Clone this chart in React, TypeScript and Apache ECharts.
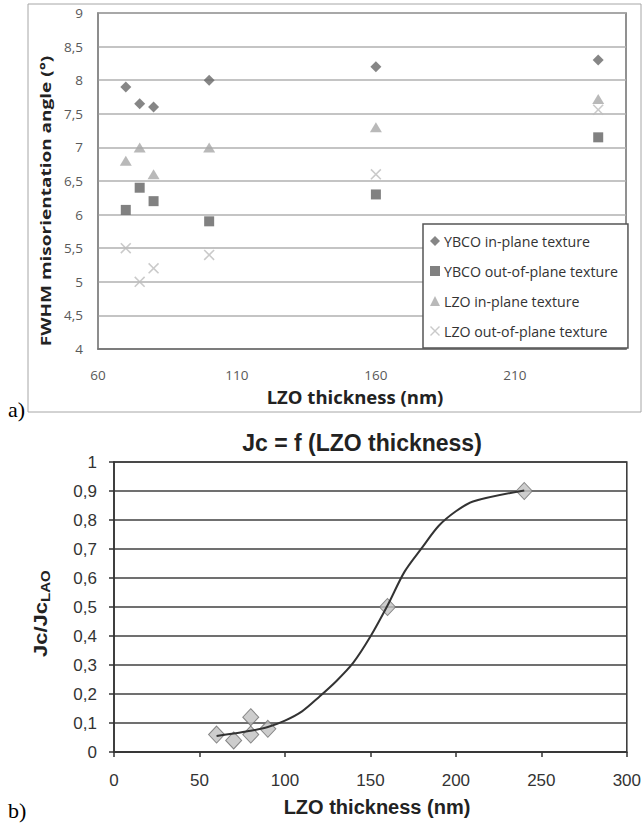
import React, { useEffect, useRef } from "react";
import * as echarts from "echarts";

// ---- chart a) FWHM misorientation angle vs LZO thickness ----
const thicknessA = [70, 75, 80, 100, 160, 240];
const ybcoInPlane = [7.9, 7.65, 7.6, 8.0, 8.2, 8.3];
const ybcoOutOfPlane = [6.07, 6.4, 6.2, 5.9, 6.3, 7.15];
const lzoInPlane = [6.8, 7.0, 6.6, 7.0, 7.3, 7.72];
const lzoOutOfPlane = [5.5, 5.0, 5.2, 5.4, 6.6, 7.56];
const xTickLabelsA = [60, 110, 160, 210];
const seriesNamesA = [
  "YBCO in-plane texture",
  "YBCO out-of-plane texture",
  "LZO in-plane texture",
  "LZO out-of-plane texture",
];

// ---- chart b) Jc/JcLAO vs LZO thickness ----
const thicknessB = [60, 70, 80, 80, 90, 160, 240];
const jcRatio = [0.06, 0.04, 0.12, 0.06, 0.08, 0.5, 0.9];
const fitX = [60, 70, 80, 90, 100, 110, 120, 130, 140, 150, 160, 170, 180, 190, 200, 210, 240];
const fitY = [0.055, 0.064, 0.073, 0.086, 0.108, 0.14, 0.19, 0.244, 0.308, 0.398, 0.505, 0.622, 0.703, 0.78, 0.83, 0.864, 0.902];

const CROSS =
  "path://M1,0 L5,4 L9,0 L10,1 L6,5 L10,9 L9,10 L5,6 L1,10 L0,9 L4,5 L0,1 Z";

const comma = (v: number) => String(+v.toFixed(2)).replace(".", ",");

export default function App() {
  const ref = useRef<HTMLDivElement>(null);
  useEffect(() => {
    if (!ref.current) return;
    const chart = echarts.init(ref.current, undefined, { renderer: "svg" });
    const pair = (xs: number[], ys: number[]) => xs.map((x, i) => [x, ys[i]]);
    const fA = "Open Sans";
    const fB = "Liberation Sans";
    const option: any = {
      animation: false,
      backgroundColor: "#ffffff",
      grid: [
        { left: 98, top: 13, width: 528, height: 336, show: true, borderColor: "#6e6e6e", borderWidth: 1.5, backgroundColor: "transparent" },
        { left: 114, top: 462, width: 516, height: 290, show: true, borderColor: "#333", borderWidth: 1.5, backgroundColor: "transparent" },
      ],
      xAxis: [
        {
          gridIndex: 0, type: "value", min: 60, max: 250,
          axisLine: { show: true, lineStyle: { color: "#6e6e6e", width: 1.5 } },
          axisTick: { show: false },
          splitLine: { show: false },
          axisLabel: { customValues: xTickLabelsA, color: "#595959", fontSize: 13.5, fontFamily: fA, margin: 19 },
        },
        {
          gridIndex: 1, type: "value", min: 0, max: 300, interval: 50,
          axisLine: { show: true, lineStyle: { color: "#333", width: 1.5 } },
          axisTick: { show: true, inside: false, length: 5, lineStyle: { color: "#333", width: 1.5 } },
          splitLine: { show: false },
          axisLabel: { color: "#333", fontSize: 17, fontFamily: fB, margin: 20 },
        },
      ],
      yAxis: [
        {
          gridIndex: 0, type: "value", min: 4, max: 9, interval: 0.5,
          axisLine: { show: true, lineStyle: { color: "#8c8c8c", width: 1.5 } },
          axisTick: { show: false },
          splitLine: { show: true, lineStyle: { color: "#b0b0b0", width: 1.5 } },
          axisLabel: { color: "#595959", fontSize: 13.5, fontFamily: fA, margin: 15, formatter: comma },
        },
        {
          gridIndex: 1, type: "value", min: 0, max: 1, interval: 0.1,
          axisLine: { show: true, lineStyle: { color: "#333", width: 1.5 } },
          axisTick: { show: true, inside: false, length: 5, lineStyle: { color: "#333", width: 1.5 } },
          splitLine: { show: true, lineStyle: { color: "#404040", width: 1.5 } },
          axisLabel: { color: "#333", fontSize: 17, fontFamily: fB, margin: 17, formatter: comma },
        },
      ],
      legend: {
        left: 423, top: 224, orient: "vertical",
        backgroundColor: "#fff", borderColor: "#555", borderWidth: 1.5,
        padding: [9, 10, 9, 7], itemWidth: 10, itemHeight: 10, itemGap: 14,
        selectedMode: false,
        textStyle: { fontFamily: fA, fontSize: 14.2, color: "#333", lineHeight: 16, padding: [0, 0, 0, -1] },
        data: [
          { name: seriesNamesA[0], icon: "diamond" },
          { name: seriesNamesA[1], icon: "rect" },
          { name: seriesNamesA[2], icon: "triangle" },
          { name: seriesNamesA[3], icon: CROSS },
        ],
      },
      series: [
        { type: "scatter", name: seriesNamesA[0], xAxisIndex: 0, yAxisIndex: 0, symbol: "diamond", symbolSize: 11, itemStyle: { color: "#686868" }, data: pair(thicknessA, ybcoInPlane) },
        { type: "scatter", name: seriesNamesA[1], xAxisIndex: 0, yAxisIndex: 0, symbol: "rect", symbolSize: 10, itemStyle: { color: "#626262" }, data: pair(thicknessA, ybcoOutOfPlane) },
        { type: "scatter", name: seriesNamesA[2], xAxisIndex: 0, yAxisIndex: 0, symbol: "triangle", symbolSize: [12, 10], itemStyle: { color: "#a8a8a8" }, data: pair(thicknessA, lzoInPlane) },
        { type: "scatter", name: seriesNamesA[3], xAxisIndex: 0, yAxisIndex: 0, symbol: CROSS, symbolSize: 11, itemStyle: { color: "#bdbdbd" }, data: pair(thicknessA, lzoOutOfPlane) },
        { type: "line", name: "fit", xAxisIndex: 1, yAxisIndex: 1, symbol: "none", showSymbol: false, smooth: 0.3, lineStyle: { color: "#333", width: 2 }, data: pair(fitX, fitY) },
        { type: "scatter", name: "Jc/JcLAO", xAxisIndex: 1, yAxisIndex: 1, symbol: "diamond", symbolSize: [16, 17], itemStyle: { color: "#c0c0c0", borderColor: "#6e6e6e", borderWidth: 1 }, data: pair(thicknessB, jcRatio) },
      ],
      graphic: [
        { type: "rect", shape: { x: 28, y: 4, width: 613, height: 408 }, style: { fill: "none", stroke: "#a6a6a6", lineWidth: 1 }, silent: true },
        { type: "text", x: 8, y: 409, style: { text: "a)", fontFamily: "Liberation Serif", fontSize: 22, fill: "#000", verticalAlign: "middle", align: "left" } },
        { type: "text", x: 8, y: 810, style: { text: "b)", fontFamily: "Liberation Serif", fontSize: 22, fill: "#000", verticalAlign: "middle", align: "left" } },
        { type: "text", x: 46, y: 201, rotation: Math.PI / 2, scaleY: 0.72, style: { text: "FWHM misorientation angle (°)", fontFamily: fA, fontWeight: "bold", fontSize: 19, fill: "#222", align: "center", verticalAlign: "middle" } },
        { type: "text", x: 355, y: 396, style: { text: "LZO thickness (nm)", fontFamily: fA, fontWeight: "bold", fontSize: 18.5, fill: "#222", align: "center", verticalAlign: "middle" } },
        { type: "text", x: 362, y: 443, style: { text: "Jc = f (LZO thickness)", fontFamily: fB, fontWeight: "bold", fontSize: 23, fill: "#222", align: "center", verticalAlign: "middle" } },
        { type: "text", x: 377, y: 807, style: { text: "LZO thickness (nm)", fontFamily: fB, fontWeight: "bold", fontSize: 20, fill: "#222", align: "center", verticalAlign: "middle" } },
        {
          type: "group", x: 41, y: 614, rotation: Math.PI / 2, scaleX: 1.0, scaleY: 0.8,
          children: [
            { type: "text", x: -43, y: 0, style: { text: "Jc/Jc", fontFamily: fB, fontWeight: "bold", fontSize: 22, fill: "#222", align: "left", verticalAlign: "middle" } },
            { type: "text", x: 12, y: 6, style: { text: "LAO", fontFamily: fB, fontWeight: "bold", fontSize: 15, fill: "#222", align: "left", verticalAlign: "middle" } },
          ],
        },
      ],
    };
    chart.setOption(option);
    return () => chart.dispose();
  }, []);
  return (
    <div
      ref={ref}
      style={{ position: "fixed", left: 0, top: 0, width: 644, height: 832, background: "#fff" }}
    />
  );
}
